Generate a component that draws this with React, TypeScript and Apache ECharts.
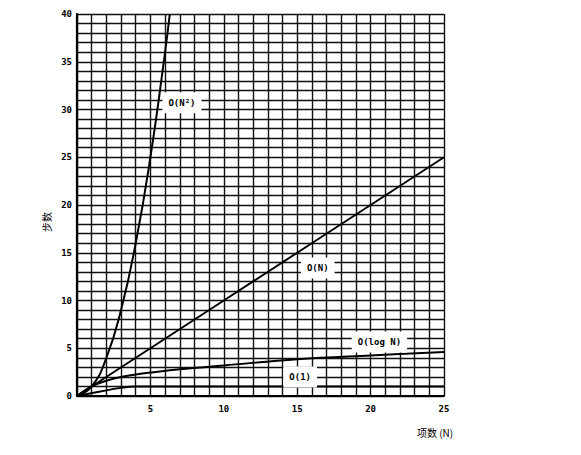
import React, { useEffect, useRef } from "react";
import * as echarts from "echarts";

const xTicks = [0, 5, 10, 15, 20, 25];
const yTicks = [0, 5, 10, 15, 20, 25, 30, 35, 40];

const quadData = [[0, 0], [1, 1], [2, 4], [3, 9], [4, 16], [5, 25], [6, 36], [6.32, 40]];
const linearData = [[0, 0], [5, 5], [10, 10], [15, 15], [20, 20], [25, 25]];
const logData = [[0, 0], [1, 1.0], [2, 1.6], [3, 2.0], [4, 2.25], [5, 2.45], [7, 2.8], [10, 3.2], [15, 3.85], [20, 4.25], [25, 4.6]];
const constData = [[0, 0], [1.5, 0.45], [3, 0.85], [4, 1], [25, 1]];

const seriesNames = ["O(N²)", "O(N)", "O(log N)", "O(1)"];
const labelCoords = [[7.15, 30.7], [16.4, 13.4], [20.6, 5.65], [15.2, 2.0]];

const mono = "'DejaVu Sans Mono', monospace";

export default function App() {
  const ref = useRef<HTMLDivElement>(null);
  useEffect(() => {
    if (!ref.current) return;
    const chart = echarts.init(ref.current, null, { renderer: "svg" });
    const datasets = [quadData, linearData, logData, constData];
    const smoothing = [0.5, false, 0.4, 0.2];
    const lineStyleGrid = { color: "#111", width: 1.4 };
    chart.setOption({
      animation: false,
      backgroundColor: "#fff",
      grid: { left: 77, right: 137, top: 14, bottom: 59 },
      xAxis: {
        type: "value",
        min: 0,
        max: 25,
        interval: 5,
        axisLine: { show: true, lineStyle: { color: "#000", width: 2.2 } },
        axisTick: { show: false },
        axisLabel: {
          color: "#000",
          fontFamily: mono,
          fontWeight: "bold",
          fontSize: 9,
          margin: 8,
          formatter: (v: number) => (xTicks.includes(v) && v !== 0 ? String(v) : ""),
        },
        splitLine: { show: true, lineStyle: lineStyleGrid },
        minorTick: { show: false, splitNumber: 5 },
        minorSplitLine: { show: true, lineStyle: lineStyleGrid },
      },
      yAxis: {
        type: "value",
        min: 0,
        max: 40,
        interval: 5,
        axisLine: { show: true, lineStyle: { color: "#000", width: 2.2 } },
        axisTick: { show: false },
        axisLabel: {
          color: "#000",
          fontFamily: mono,
          fontWeight: "bold",
          fontSize: 9,
          margin: 5,
          formatter: (v: number) => (yTicks.includes(v) ? String(v) : ""),
        },
        splitLine: { show: true, lineStyle: lineStyleGrid },
        minorTick: { show: false, splitNumber: 5 },
        minorSplitLine: { show: true, lineStyle: lineStyleGrid },
      },
      graphic: [
        {
          type: "text",
          x: 46,
          y: 222,
          rotation: Math.PI / 2,
          style: {
            text: "步数",
            fill: "#000",
            font: "10px 'Noto Sans CJK SC'",
            align: "center",
            verticalAlign: "middle",
          },
        },
        {
          type: "text",
          x: 435,
          y: 432,
          style: {
            text: "项数 (N)",
            fill: "#000",
            font: "10px 'Noto Sans CJK SC'",
            align: "center",
            verticalAlign: "middle",
          },
        },
      ],
      series: datasets.map((d, i) => ({
        type: "line",
        name: seriesNames[i],
        data: d,
        showSymbol: false,
        smooth: smoothing[i],
        clip: true,
        lineStyle: { color: "#000", width: 2 },
        z: 3,
        markPoint: {
          symbol: "rect",
          symbolSize: 0,
          data: [{ coord: labelCoords[i] }],
          label: {
            show: true,
            position: "inside",
            formatter: seriesNames[i],
            color: "#000",
            fontFamily: mono,
            fontWeight: "bold",
            fontSize: 9,
            backgroundColor: "#fff",
            padding: [6, 6],
          },
        },
      })),
    });
    return () => chart.dispose();
  }, []);
  return <div ref={ref} style={{ width: 581, height: 455, position: "absolute", left: 0, top: 0 }} />;
}
